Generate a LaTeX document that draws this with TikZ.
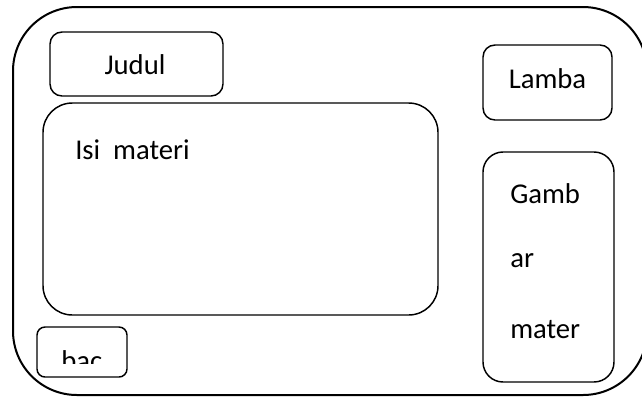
\documentclass[tikz,border=0pt]{standalone}
\usepackage{fontspec}
\setmainfont{Carlito}
\usetikzlibrary{fit}
\begin{document}
\begin{tikzpicture}[x=0.75pt,y=-0.75pt,
  panel/.style={draw, line width=1.1pt, rounded corners=#1, inner sep=0pt},
  label/.style={font=\fontsize{21.5}{26}\selectfont, inner sep=0pt}]
\useasboundingbox (0,0) rectangle (642,397);
% outer frame (its right side runs past the page edge)
\draw[line width=1.5pt, rounded corners=48pt] (13,7) rectangle (647,395);

% title box
\node[panel=9pt, fit={(50,32) (223,96)}] (judul) {};
\node[label, anchor=base] (judultext) at (135,74) {Judul};

% logo box
\node[panel=9pt, fit={(483,45) (612,120)}] (lamba) {};
\node[label, anchor=base] (lambatext) at (547.5,88) {Lamba};

% content area
\node[panel=22pt, fit={(43,103) (438,315)}] (isi) {};
\node[label, anchor=base west] (isitext) at (75,159) {Isi\ \ materi};

% picture area
\node[panel=15pt, fit={(483,152) (614,382)}] (gambar) {};
\node[label, anchor=base west] (g1) at (510,203) {Gamb};
\node[label, anchor=base west] (g2) at (510,267) {ar};
\node[label, anchor=base west] (g3) at (510,338) {mater};

% small box with clipped text
\node[panel=6pt, fit={(37,327) (127,377)}] (bac) {};
\begin{scope}
  \clip (37,327) rectangle (127,363);
  \node[label, anchor=base west] (bactext) at (61,370) {bac};
\end{scope}
\end{tikzpicture}
\end{document}
